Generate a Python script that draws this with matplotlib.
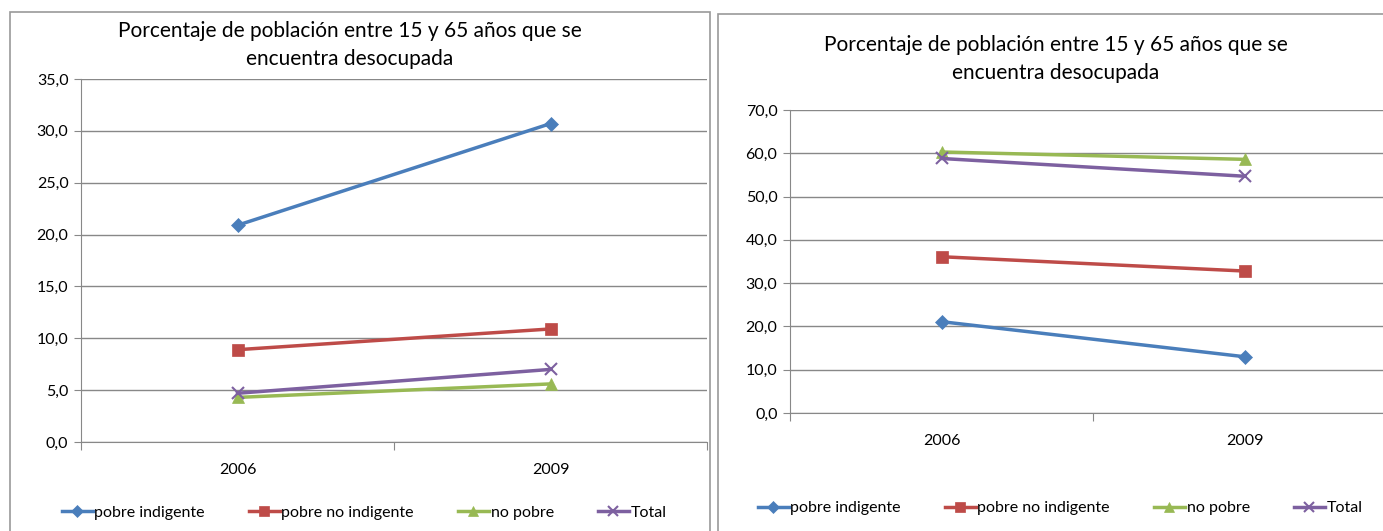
import numpy as np
import matplotlib.pyplot as plt
from matplotlib.patches import Rectangle
from matplotlib.ticker import FuncFormatter

# Data
years = ["2006", "2009"]
series_names = ["pobre indigente", "pobre no indigente", "no pobre", "Total"]

left_pobre_indigente = [20.9, 30.7]
left_pobre_no_indigente = [8.9, 10.9]
left_no_pobre = [4.3, 5.6]
left_total = [4.7, 7.0]

right_pobre_indigente = [21.1, 13.0]
right_pobre_no_indigente = [36.1, 32.8]
right_no_pobre = [60.3, 58.6]
right_total = [58.8, 54.7]

title = "Porcentaje de población entre 15 y 65 años que se\nencuentra desocupada"

colors = ["#4A7EBB", "#BE4B48", "#98B954", "#7D60A0"]
markers = ["D", "s", "^", "x"]
msizes = [7, 8, 8, 8]

plt.rcParams['font.family'] = ['Lato', 'DejaVu Sans']

W, H = 1383, 531
fig = plt.figure(figsize=(W / 100, H / 100), dpi=100)


def px_axes(x0, x1, y_top, y_bot):
    return fig.add_axes([x0 / W, (H - y_bot) / H, (x1 - x0) / W, (y_bot - y_top) / H])


def draw_panel(ax, data, ymax, step):
    x = np.arange(len(years))
    for vals, c, m, ms, name in zip(data, colors, markers, msizes, series_names):
        ax.plot(x, vals, color=c, lw=2.5, marker=m, ms=ms, mew=1.5 if m == "x" else 0.5,
                label=name, clip_on=False)
    ax.set_xlim(-0.5, len(years) - 0.5)
    ax.set_ylim(0, ymax)
    ax.set_yticks(np.arange(0, ymax + 0.1, step))
    ax.yaxis.set_major_formatter(FuncFormatter(lambda v, p: f"{v:.1f}".replace(".", ",")))
    ax.set_xticks(np.arange(-0.5, len(years), 1.0))
    ax.set_xticklabels([])
    ax.set_xticks(x, minor=True)
    ax.set_xticklabels(years, minor=True)
    ax.tick_params(axis="x", which="minor", length=0, pad=15, labelsize=11.5)
    ax.tick_params(axis="x", which="major", length=6, color="#888888")
    ax.tick_params(axis="y", length=5, color="#888888", labelsize=11.5, pad=4)
    ax.grid(axis="y", color="#888888", lw=1)
    ax.set_axisbelow(True)
    for s in ["top", "right"]:
        ax.spines[s].set_visible(False)
    for s in ["left", "bottom"]:
        ax.spines[s].set_color("#888888")


# panel frames
fig.patches.append(Rectangle((10 / W, -0.1), 700 / W, (H - 12) / H + 0.1, transform=fig.transFigure,
                             fill=False, ec="#999999", lw=1.2))
fig.patches.append(Rectangle((718 / W, -0.1), 0.6, (H - 14) / H + 0.1, transform=fig.transFigure,
                             fill=False, ec="#999999", lw=1.2))

ax1 = px_axes(81, 707, 79, 442)
draw_panel(ax1, [left_pobre_indigente, left_pobre_no_indigente, left_no_pobre, left_total], 35, 5)
fig.text(350 / W, 1 - 45 / H, title, ha="center", va="center", fontsize=15, linespacing=1.5)

ax2 = px_axes(790, 1396, 110, 413)
draw_panel(ax2, [right_pobre_indigente, right_pobre_no_indigente, right_no_pobre, right_total], 70, 10)
fig.text(1056 / W, 1 - 59 / H, title, ha="center", va="center", fontsize=15, linespacing=1.5)

for ax, xc, yc in [(ax1, 364, 513), (ax2, 1060, 508)]:
    ax.legend(loc="center", bbox_to_anchor=(xc / W, 1 - yc / H), bbox_transform=fig.transFigure,
              ncol=4, frameon=False, fontsize=11.5, handlelength=1.95, handletextpad=0.1,
              columnspacing=2.75, borderaxespad=0, markerscale=0.9)

fig.savefig("out.png", dpi=100)
